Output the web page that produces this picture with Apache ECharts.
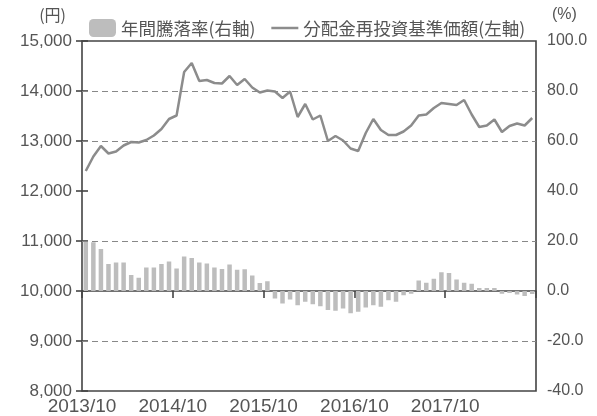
<!DOCTYPE html>
<html>
<head>
<meta charset="utf-8">
<script src="https://cdn.jsdelivr.net/npm/echarts@6/dist/echarts.min.js"></script>
<style>
html,body{margin:0;padding:0;background:#fff;}
#chart{width:597px;height:416px;}
</style>
</head>
<body>
<div id="chart"></div>
<script>
// Monthly data, 2013/10 .. 2018/9
const xTickLabels = ['2013/10', '2014/10', '2015/10', '2016/10', '2017/10'];
const navValues = [
  12400, 12690, 12900, 12750, 12790, 12910, 12980, 12970, 13020, 13110, 13240, 13440,
  13510, 14380, 14560, 14200, 14220, 14160, 14150, 14300, 14120, 14240, 14070, 13970,
  14010, 13990, 13860, 13990, 13480, 13740, 13430, 13510, 13000, 13100, 13010, 12850,
  12800, 13160, 13440, 13220, 13120, 13120, 13190, 13310, 13510, 13530, 13660, 13760,
  13740, 13720, 13820, 13530, 13280, 13310, 13430, 13180, 13300, 13350, 13310, 13460
];
const returnValues = [
  19.8, 19.5, 16.8, 10.8, 11.4, 11.4, 6.4, 5.3, 9.4, 9.4, 10.8, 11.8,
  9.0, 13.8, 13.2, 11.4, 11.0, 9.4, 8.8, 10.6, 8.5, 8.7, 6.2, 3.2,
  3.9, -3.0, -5.0, -3.4, -5.7, -4.3, -5.3, -6.1, -7.6, -7.9, -7.0, -8.9,
  -8.3, -6.6, -5.7, -6.3, -3.7, -4.3, -1.7, -1.1, 4.2, 3.3, 4.9, 7.5,
  7.2, 4.6, 3.3, 2.9, 1.2, 1.2, 1.2, -1.1, -0.8, -1.4, -2.0, -1.2
];
const gridLevels = [14000, 13000, 11000, 9000];
const seriesNames = ['年間騰落率(右軸)', '分配金再投資基準価額(左軸)'];
const unitLeft = '(円)';
const unitRight = '(%)';

const numFont = 'Liberation Sans';
const txtColor = '#555';
const lineColor = '#8c8c8c';

const chart = echarts.init(document.getElementById('chart'), null, {renderer: 'canvas'});
chart.setOption({
  animation: false,
  backgroundColor: '#fff',
  grid: {left: 82, right: 61, top: 41, bottom: 23, show: true, borderColor: '#444', borderWidth: 1.6, backgroundColor: 'transparent'},
  legend: {
    data: [
      {name: seriesNames[0]},
      {name: seriesNames[1], icon: 'path://M0,0 L27,0 L27,2.5 L0,2.5 Z', itemStyle: {color: lineColor}}
    ],
    left: 84, top: 14,
    itemWidth: 27, itemHeight: 18, itemGap: 16,
    textStyle: {fontSize: 17.5, color: txtColor, fontFamily: 'Noto Sans CJK JP'}
  },
  graphic: [
    {type: 'text', right: 597 - 66, top: 7, style: {text: unitLeft, fontSize: 16, fill: txtColor, fontFamily: 'Noto Sans CJK JP'}},
    {type: 'text', left: 552, top: 7, style: {text: unitRight, fontSize: 16, fill: txtColor, fontFamily: numFont}}
  ],
  xAxis: [
    {
      type: 'value', min: 0, max: 60, interval: 12,
      axisLine: {show: true, onZero: true, onZeroAxisIndex: 1, lineStyle: {color: '#444', width: 1.6}},
      axisTick: {show: true, inside: false, length: 7, lineStyle: {color: '#444', width: 1.6}},
      axisLabel: {show: false},
      splitLine: {show: false}
    },
    {
      type: 'value', min: 0, max: 60, interval: 12, position: 'bottom',
      axisLine: {show: false}, axisTick: {show: false}, splitLine: {show: false},
      axisLabel: {
        show: true, margin: 6, fontSize: 19, color: txtColor, fontFamily: numFont,
        formatter: v => xTickLabels[v / 12] || ''
      }
    }
  ],
  yAxis: [
    {
      type: 'value', min: 8000, max: 15000, interval: 1000, position: 'left',
      axisLine: {show: false},
      axisTick: {show: true, inside: true, length: 6, lineStyle: {color: '#444', width: 1.6}},
      axisLabel: {margin: 10, fontSize: 17, color: txtColor, fontFamily: numFont, formatter: v => v.toLocaleString('en-US')},
      splitLine: {show: false}
    },
    {
      type: 'value', min: -40, max: 100, interval: 20, position: 'right',
      axisLine: {show: false},
      axisTick: {show: true, inside: true, length: 6, lineStyle: {color: '#444', width: 1.6}},
      axisLabel: {margin: 11, fontSize: 16, color: txtColor, fontFamily: numFont, formatter: v => v.toFixed(1)},
      splitLine: {show: false}
    }
  ],
  series: [
    {
      name: seriesNames[0], type: 'bar', xAxisIndex: 0, yAxisIndex: 1,
      barWidth: 4.5,
      itemStyle: {color: '#bdbdbd'},
      data: returnValues.map((v, i) => [i + 0.5, v])
    },
    {
      name: seriesNames[1], type: 'line', xAxisIndex: 0, yAxisIndex: 0,
      symbol: 'none', showSymbol: false,
      lineStyle: {color: lineColor, width: 2.5},
      itemStyle: {color: lineColor},
      data: navValues.map((v, i) => [i + 0.5, v]),
      markLine: {
        silent: true, symbol: 'none', label: {show: false},
        lineStyle: {color: '#888', type: [6, 4], width: 1.2},
        data: gridLevels.map(v => ({yAxis: v}))
      },
      z: 3
    }
  ]
});
</script>
</body>
</html>
